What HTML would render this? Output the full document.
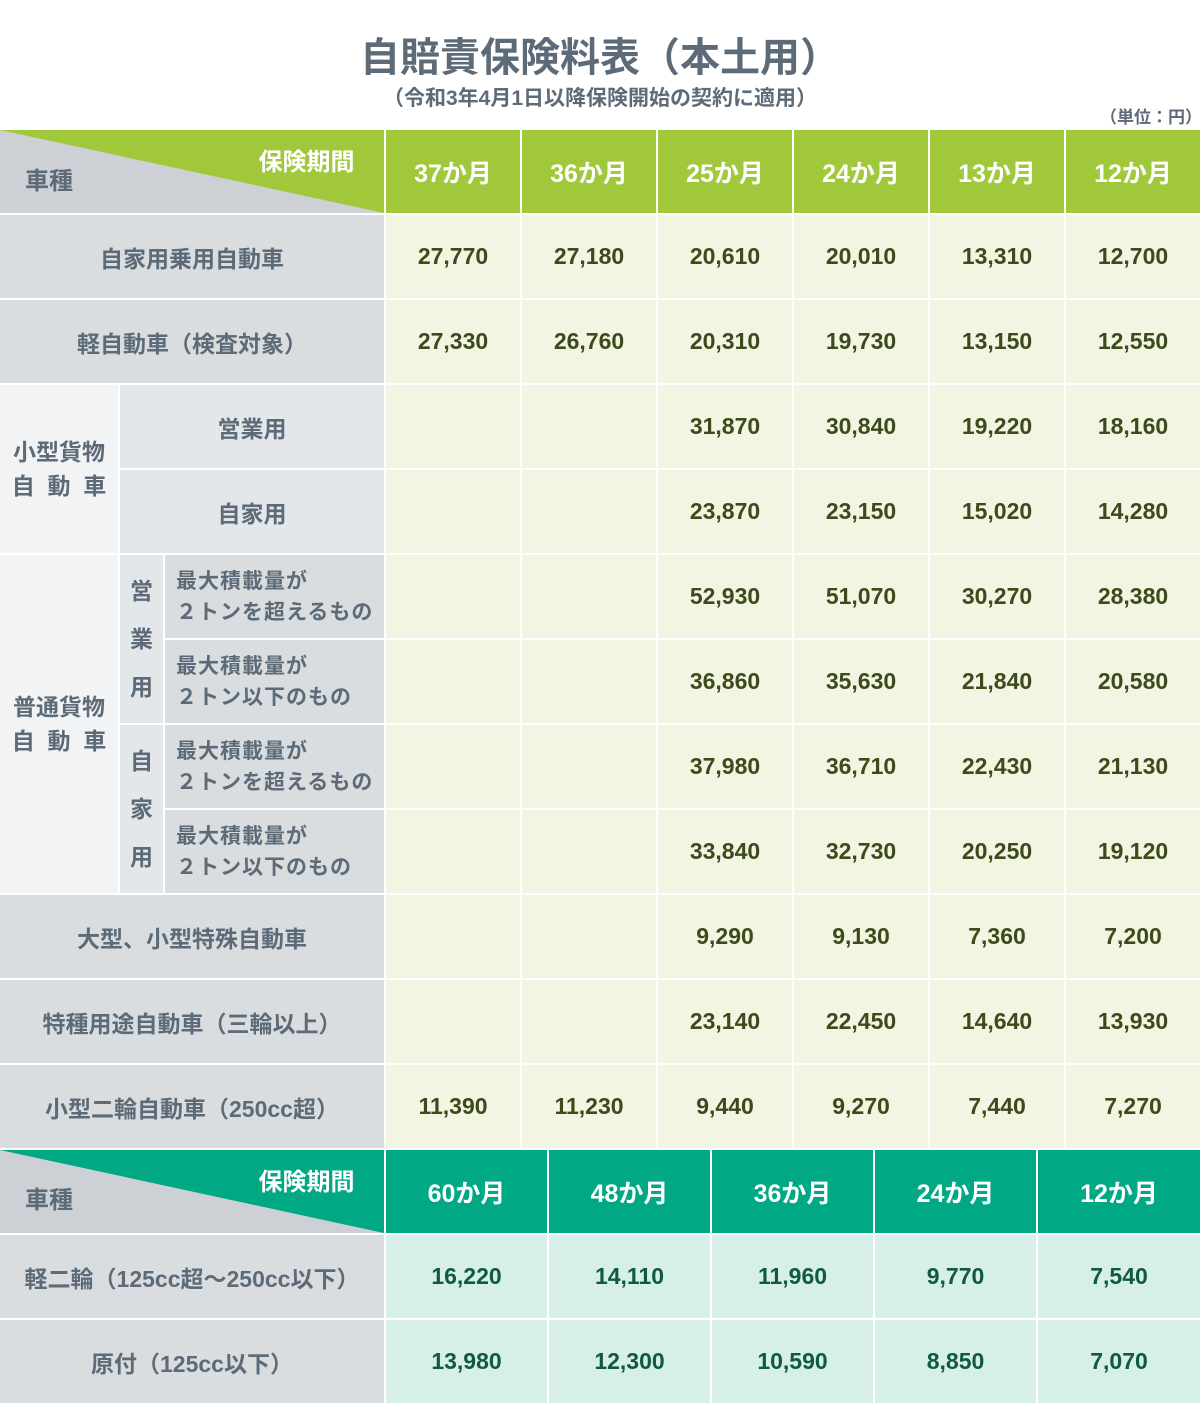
<!DOCTYPE html>
<html><head><meta charset="utf-8"><style>
*{margin:0;padding:0;box-sizing:border-box}
body{width:1200px;height:1403px;background:#fff;position:relative;font-family:"Liberation Sans","Noto Sans CJK JP",sans-serif;overflow:hidden}
.c{position:absolute;display:flex;align-items:center;justify-content:center;text-align:center;font-weight:bold}
.g{background:#d9dde0;color:#5d6b78;font-size:23px}
.gl{background:#f2f3f5;color:#5d6b78;font-size:23px;line-height:34px}
.gm{background:#e4e7ea;color:#5d6b78;font-size:23px}
.n{background:#f1f5e1;color:#3d4a1c;font-size:23px}
.h{background:#a0c83a;color:#fff;font-size:25px}
.h2{background:#00a884;color:#fff;font-size:25px}
.n2{background:#d7efe9;color:#0f5a40;font-size:23px}
.sm{justify-content:flex-start;text-align:left;padding-left:11px;font-size:21px;line-height:31px;letter-spacing:1px}
</style></head><body>
<div class="c" style="left:0;width:1200px;top:28px;height:52px;font-size:40px;color:#5d6b78">自賠責保険料表（本土用）</div>
<div class="c" style="left:0;top:83px;width:1200px;height:28px;font-size:21px;color:#5d6b78">（令和3年4月1日以降保険開始の契約に適用）</div>
<div class="c" style="left:1100px;top:102px;width:100px;height:26px;font-size:17px;color:#5d6b78;justify-content:flex-end">（単位：円）</div>

<svg style="position:absolute;left:0;top:130px" width="384" height="83"><rect width="384" height="83" fill="#cdd1d6"/><polygon points="0,0 384,0 384,83" fill="#a0c83a"/></svg>
<div class="c" style="left:25px;top:158px;height:40px;font-size:24px;color:#5d6b78">車種</div>
<div class="c" style="left:255px;top:139px;width:103px;height:40px;font-size:24px;color:#fff">保険期間</div>
<div class="c h" style="left:386px;top:130px;width:134px;height:83px">37か月</div>
<div class="c h" style="left:522px;top:130px;width:134px;height:83px">36か月</div>
<div class="c h" style="left:658px;top:130px;width:134px;height:83px">25か月</div>
<div class="c h" style="left:794px;top:130px;width:134px;height:83px">24か月</div>
<div class="c h" style="left:930px;top:130px;width:134px;height:83px">13か月</div>
<div class="c h" style="left:1066px;top:130px;width:134px;height:83px">12か月</div>

<div class="c g" style="left:0;top:215px;width:384px;height:83px">自家用乗用自動車</div>
<div class="c g" style="left:0;top:300px;width:384px;height:83px">軽自動車（検査対象）</div>
<div class="c gl" style="left:0;top:385px;width:118px;height:168px">小型貨物<br>自&nbsp;&nbsp;動&nbsp;&nbsp;車</div>
<div class="c gm" style="left:120px;top:385px;width:264px;height:83px">営業用</div>
<div class="c gm" style="left:120px;top:470px;width:264px;height:83px">自家用</div>
<div class="c gl" style="left:0;top:555px;width:118px;height:338px">普通貨物<br>自&nbsp;&nbsp;動&nbsp;&nbsp;車</div>
<div class="c gm" style="left:120px;top:555px;width:43px;height:168px;line-height:48px">営<br>業<br>用</div>
<div class="c gm" style="left:120px;top:725px;width:43px;height:168px;line-height:48px">自<br>家<br>用</div>
<div class="c g sm" style="left:165px;top:555px;width:219px;height:83px">最大積載量が<br>２トンを超えるもの</div>
<div class="c g sm" style="left:165px;top:640px;width:219px;height:83px">最大積載量が<br>２トン以下のもの</div>
<div class="c g sm" style="left:165px;top:725px;width:219px;height:83px">最大積載量が<br>２トンを超えるもの</div>
<div class="c g sm" style="left:165px;top:810px;width:219px;height:83px">最大積載量が<br>２トン以下のもの</div>
<div class="c g" style="left:0;top:895px;width:384px;height:83px">大型、小型特殊自動車</div>
<div class="c g" style="left:0;top:980px;width:384px;height:83px">特種用途自動車（三輪以上）</div>
<div class="c g" style="left:0;top:1065px;width:384px;height:83px">小型二輪自動車（250cc超）</div>

<div class="c n" style="left:386px;top:215px;width:134px;height:83px">27,770</div><div class="c n" style="left:522px;top:215px;width:134px;height:83px">27,180</div><div class="c n" style="left:658px;top:215px;width:134px;height:83px">20,610</div><div class="c n" style="left:794px;top:215px;width:134px;height:83px">20,010</div><div class="c n" style="left:930px;top:215px;width:134px;height:83px">13,310</div><div class="c n" style="left:1066px;top:215px;width:134px;height:83px">12,700</div>
<div class="c n" style="left:386px;top:300px;width:134px;height:83px">27,330</div><div class="c n" style="left:522px;top:300px;width:134px;height:83px">26,760</div><div class="c n" style="left:658px;top:300px;width:134px;height:83px">20,310</div><div class="c n" style="left:794px;top:300px;width:134px;height:83px">19,730</div><div class="c n" style="left:930px;top:300px;width:134px;height:83px">13,150</div><div class="c n" style="left:1066px;top:300px;width:134px;height:83px">12,550</div>
<div class="c n" style="left:386px;top:385px;width:134px;height:83px"></div><div class="c n" style="left:522px;top:385px;width:134px;height:83px"></div><div class="c n" style="left:658px;top:385px;width:134px;height:83px">31,870</div><div class="c n" style="left:794px;top:385px;width:134px;height:83px">30,840</div><div class="c n" style="left:930px;top:385px;width:134px;height:83px">19,220</div><div class="c n" style="left:1066px;top:385px;width:134px;height:83px">18,160</div>
<div class="c n" style="left:386px;top:470px;width:134px;height:83px"></div><div class="c n" style="left:522px;top:470px;width:134px;height:83px"></div><div class="c n" style="left:658px;top:470px;width:134px;height:83px">23,870</div><div class="c n" style="left:794px;top:470px;width:134px;height:83px">23,150</div><div class="c n" style="left:930px;top:470px;width:134px;height:83px">15,020</div><div class="c n" style="left:1066px;top:470px;width:134px;height:83px">14,280</div>
<div class="c n" style="left:386px;top:555px;width:134px;height:83px"></div><div class="c n" style="left:522px;top:555px;width:134px;height:83px"></div><div class="c n" style="left:658px;top:555px;width:134px;height:83px">52,930</div><div class="c n" style="left:794px;top:555px;width:134px;height:83px">51,070</div><div class="c n" style="left:930px;top:555px;width:134px;height:83px">30,270</div><div class="c n" style="left:1066px;top:555px;width:134px;height:83px">28,380</div>
<div class="c n" style="left:386px;top:640px;width:134px;height:83px"></div><div class="c n" style="left:522px;top:640px;width:134px;height:83px"></div><div class="c n" style="left:658px;top:640px;width:134px;height:83px">36,860</div><div class="c n" style="left:794px;top:640px;width:134px;height:83px">35,630</div><div class="c n" style="left:930px;top:640px;width:134px;height:83px">21,840</div><div class="c n" style="left:1066px;top:640px;width:134px;height:83px">20,580</div>
<div class="c n" style="left:386px;top:725px;width:134px;height:83px"></div><div class="c n" style="left:522px;top:725px;width:134px;height:83px"></div><div class="c n" style="left:658px;top:725px;width:134px;height:83px">37,980</div><div class="c n" style="left:794px;top:725px;width:134px;height:83px">36,710</div><div class="c n" style="left:930px;top:725px;width:134px;height:83px">22,430</div><div class="c n" style="left:1066px;top:725px;width:134px;height:83px">21,130</div>
<div class="c n" style="left:386px;top:810px;width:134px;height:83px"></div><div class="c n" style="left:522px;top:810px;width:134px;height:83px"></div><div class="c n" style="left:658px;top:810px;width:134px;height:83px">33,840</div><div class="c n" style="left:794px;top:810px;width:134px;height:83px">32,730</div><div class="c n" style="left:930px;top:810px;width:134px;height:83px">20,250</div><div class="c n" style="left:1066px;top:810px;width:134px;height:83px">19,120</div>
<div class="c n" style="left:386px;top:895px;width:134px;height:83px"></div><div class="c n" style="left:522px;top:895px;width:134px;height:83px"></div><div class="c n" style="left:658px;top:895px;width:134px;height:83px">9,290</div><div class="c n" style="left:794px;top:895px;width:134px;height:83px">9,130</div><div class="c n" style="left:930px;top:895px;width:134px;height:83px">7,360</div><div class="c n" style="left:1066px;top:895px;width:134px;height:83px">7,200</div>
<div class="c n" style="left:386px;top:980px;width:134px;height:83px"></div><div class="c n" style="left:522px;top:980px;width:134px;height:83px"></div><div class="c n" style="left:658px;top:980px;width:134px;height:83px">23,140</div><div class="c n" style="left:794px;top:980px;width:134px;height:83px">22,450</div><div class="c n" style="left:930px;top:980px;width:134px;height:83px">14,640</div><div class="c n" style="left:1066px;top:980px;width:134px;height:83px">13,930</div>
<div class="c n" style="left:386px;top:1065px;width:134px;height:83px">11,390</div><div class="c n" style="left:522px;top:1065px;width:134px;height:83px">11,230</div><div class="c n" style="left:658px;top:1065px;width:134px;height:83px">9,440</div><div class="c n" style="left:794px;top:1065px;width:134px;height:83px">9,270</div><div class="c n" style="left:930px;top:1065px;width:134px;height:83px">7,440</div><div class="c n" style="left:1066px;top:1065px;width:134px;height:83px">7,270</div>

<svg style="position:absolute;left:0;top:1150px" width="384" height="83"><rect width="384" height="83" fill="#cdd1d6"/><polygon points="0,0 384,0 384,83" fill="#00a884"/></svg>
<div class="c" style="left:25px;top:1177px;height:40px;font-size:24px;color:#5d6b78">車種</div>
<div class="c" style="left:255px;top:1159px;width:103px;height:40px;font-size:24px;color:#fff">保険期間</div>
<div class="c h2" style="left:386px;top:1150px;width:161px;height:83px">60か月</div>
<div class="c h2" style="left:549px;top:1150px;width:161px;height:83px">48か月</div>
<div class="c h2" style="left:712px;top:1150px;width:161px;height:83px">36か月</div>
<div class="c h2" style="left:875px;top:1150px;width:161px;height:83px">24か月</div>
<div class="c h2" style="left:1038px;top:1150px;width:162px;height:83px">12か月</div>

<div class="c g" style="left:0;top:1235px;width:384px;height:83px">軽二輪（125cc超～250cc以下）</div>
<div class="c g" style="left:0;top:1320px;width:384px;height:83px">原付（125cc以下）</div>
<div class="c n2" style="left:386px;top:1235px;width:161px;height:83px">16,220</div><div class="c n2" style="left:549px;top:1235px;width:161px;height:83px">14,110</div><div class="c n2" style="left:712px;top:1235px;width:161px;height:83px">11,960</div><div class="c n2" style="left:875px;top:1235px;width:161px;height:83px">9,770</div><div class="c n2" style="left:1038px;top:1235px;width:162px;height:83px">7,540</div>
<div class="c n2" style="left:386px;top:1320px;width:161px;height:83px">13,980</div><div class="c n2" style="left:549px;top:1320px;width:161px;height:83px">12,300</div><div class="c n2" style="left:712px;top:1320px;width:161px;height:83px">10,590</div><div class="c n2" style="left:875px;top:1320px;width:161px;height:83px">8,850</div><div class="c n2" style="left:1038px;top:1320px;width:162px;height:83px">7,070</div>
</body></html>
